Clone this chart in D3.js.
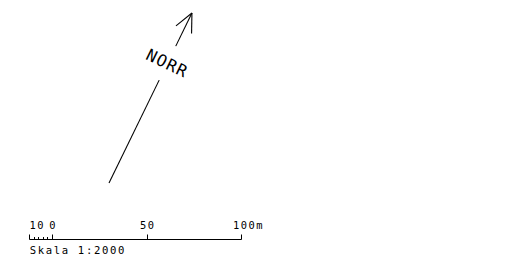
<!DOCTYPE html>
<html>
<head>
<meta charset="utf-8">
<script src="https://cdn.jsdelivr.net/npm/d3@7"></script>
<style>
  body { margin: 0; background: #fff; }
  text { font-family: "DejaVu Sans Mono", monospace; fill: #000; }
</style>
</head>
<body>
<div id="map"></div>
<script>
// scale bar values (metres)
const scaleTicks = [0, 50, 100];
const scaleLabels = ["0", "50", "100m"];
const subTicks = [-10, -8, -6, -4, -2, 0];
const subLabel = "10";
const scaleText = "Skala 1:2000";

// north arrow (units along the arrow: 0 = tail, 100 = tip)
const northLabel = "NORR";
const arrowSegments = [[0, 60.5], [80.5, 100]];
const labelPos = 70.5;
const northAngle = 26; // degrees, clockwise from straight up

const width = 525;
const height = 271;

const svg = d3.select("#map")
  .append("svg")
  .attr("width", width)
  .attr("height", height);

// scale bar
const xScale = d3.scaleLinear().domain([0, 100]).range([52.5, 241.5]);
const subScale = d3.scaleLinear().domain([-10, 0]).range([29.5, 52.5]);
const baseY = 239.5;
const labelY = 228.7;

const bar = svg.append("g").attr("stroke", "#000").attr("stroke-width", 1);

bar.append("line")
  .attr("x1", subScale(-10)).attr("x2", xScale(100))
  .attr("y1", baseY).attr("y2", baseY);

bar.selectAll(".big")
  .data(scaleTicks)
  .enter()
  .append("line")
    .attr("x1", d => Math.floor(xScale(d)) + 0.5)
    .attr("x2", d => Math.floor(xScale(d)) + 0.5)
    .attr("y1", baseY - 5).attr("y2", baseY);

bar.selectAll(".small")
  .data(subTicks)
  .enter()
  .append("line")
    .attr("x1", d => Math.floor(subScale(d)) + 0.5)
    .attr("x2", d => Math.floor(subScale(d)) + 0.5)
    .attr("y1", d => d === -10 ? baseY - 5 : baseY - 2.5)
    .attr("y2", baseY);

const lab = svg.append("g")
  .attr("font-size", 10.4)
  .attr("letter-spacing", 1.5);

lab.selectAll(".lbl")
  .data(scaleTicks)
  .enter()
  .append("text")
    .attr("x", d => d === 100 ? xScale(d) - 8.5 : xScale(d) + 0.75)
    .attr("y", labelY)
    .attr("text-anchor", d => d === 100 ? "start" : "middle")
    .text((d, i) => scaleLabels[i]);

lab.append("text")
  .attr("x", subScale(-10))
  .attr("y", labelY)
  .text(subLabel);

svg.append("text")
  .attr("x", 29.7)
  .attr("y", 253.8)
  .attr("font-size", 10.6)
  .attr("letter-spacing", 1.65)
  .text(scaleText);

// north arrow
const tail = [109, 183];
const arrowLen = Math.hypot(83, 170);
const rad = northAngle * Math.PI / 180;
const along = d3.scaleLinear().domain([0, 100]).range([0, arrowLen]);
const pt = t => [tail[0] + Math.sin(rad) * along(t), tail[1] - Math.cos(rad) * along(t)];

const arrow = svg.append("g")
  .attr("stroke", "#000").attr("stroke-width", 1.1).attr("fill", "none");

arrow.selectAll(".seg")
  .data(arrowSegments)
  .enter()
  .append("line")
    .attr("x1", d => pt(d[0])[0]).attr("y1", d => pt(d[0])[1])
    .attr("x2", d => pt(d[1])[0]).attr("y2", d => pt(d[1])[1]);

const tip = pt(100);
const barbLen = 20.5;
[-1, 1].forEach(s => {
  const a = rad + Math.PI + s * 25 * Math.PI / 180;
  arrow.append("line")
    .attr("x1", tip[0]).attr("y1", tip[1])
    .attr("x2", tip[0] + Math.sin(a) * barbLen)
    .attr("y2", tip[1] - Math.cos(a) * barbLen);
});

const mid = pt(labelPos);
svg.append("text")
  .attr("transform", `translate(${mid[0]},${mid[1]}) rotate(${northAngle})`)
  .attr("text-anchor", "middle")
  .attr("dy", "0.36em")
  .attr("font-family", "'DejaVu Sans', sans-serif")
  .attr("font-size", 16.5)
  .attr("letter-spacing", 1.2)
  .text(northLabel);
</script>
</body>
</html>
